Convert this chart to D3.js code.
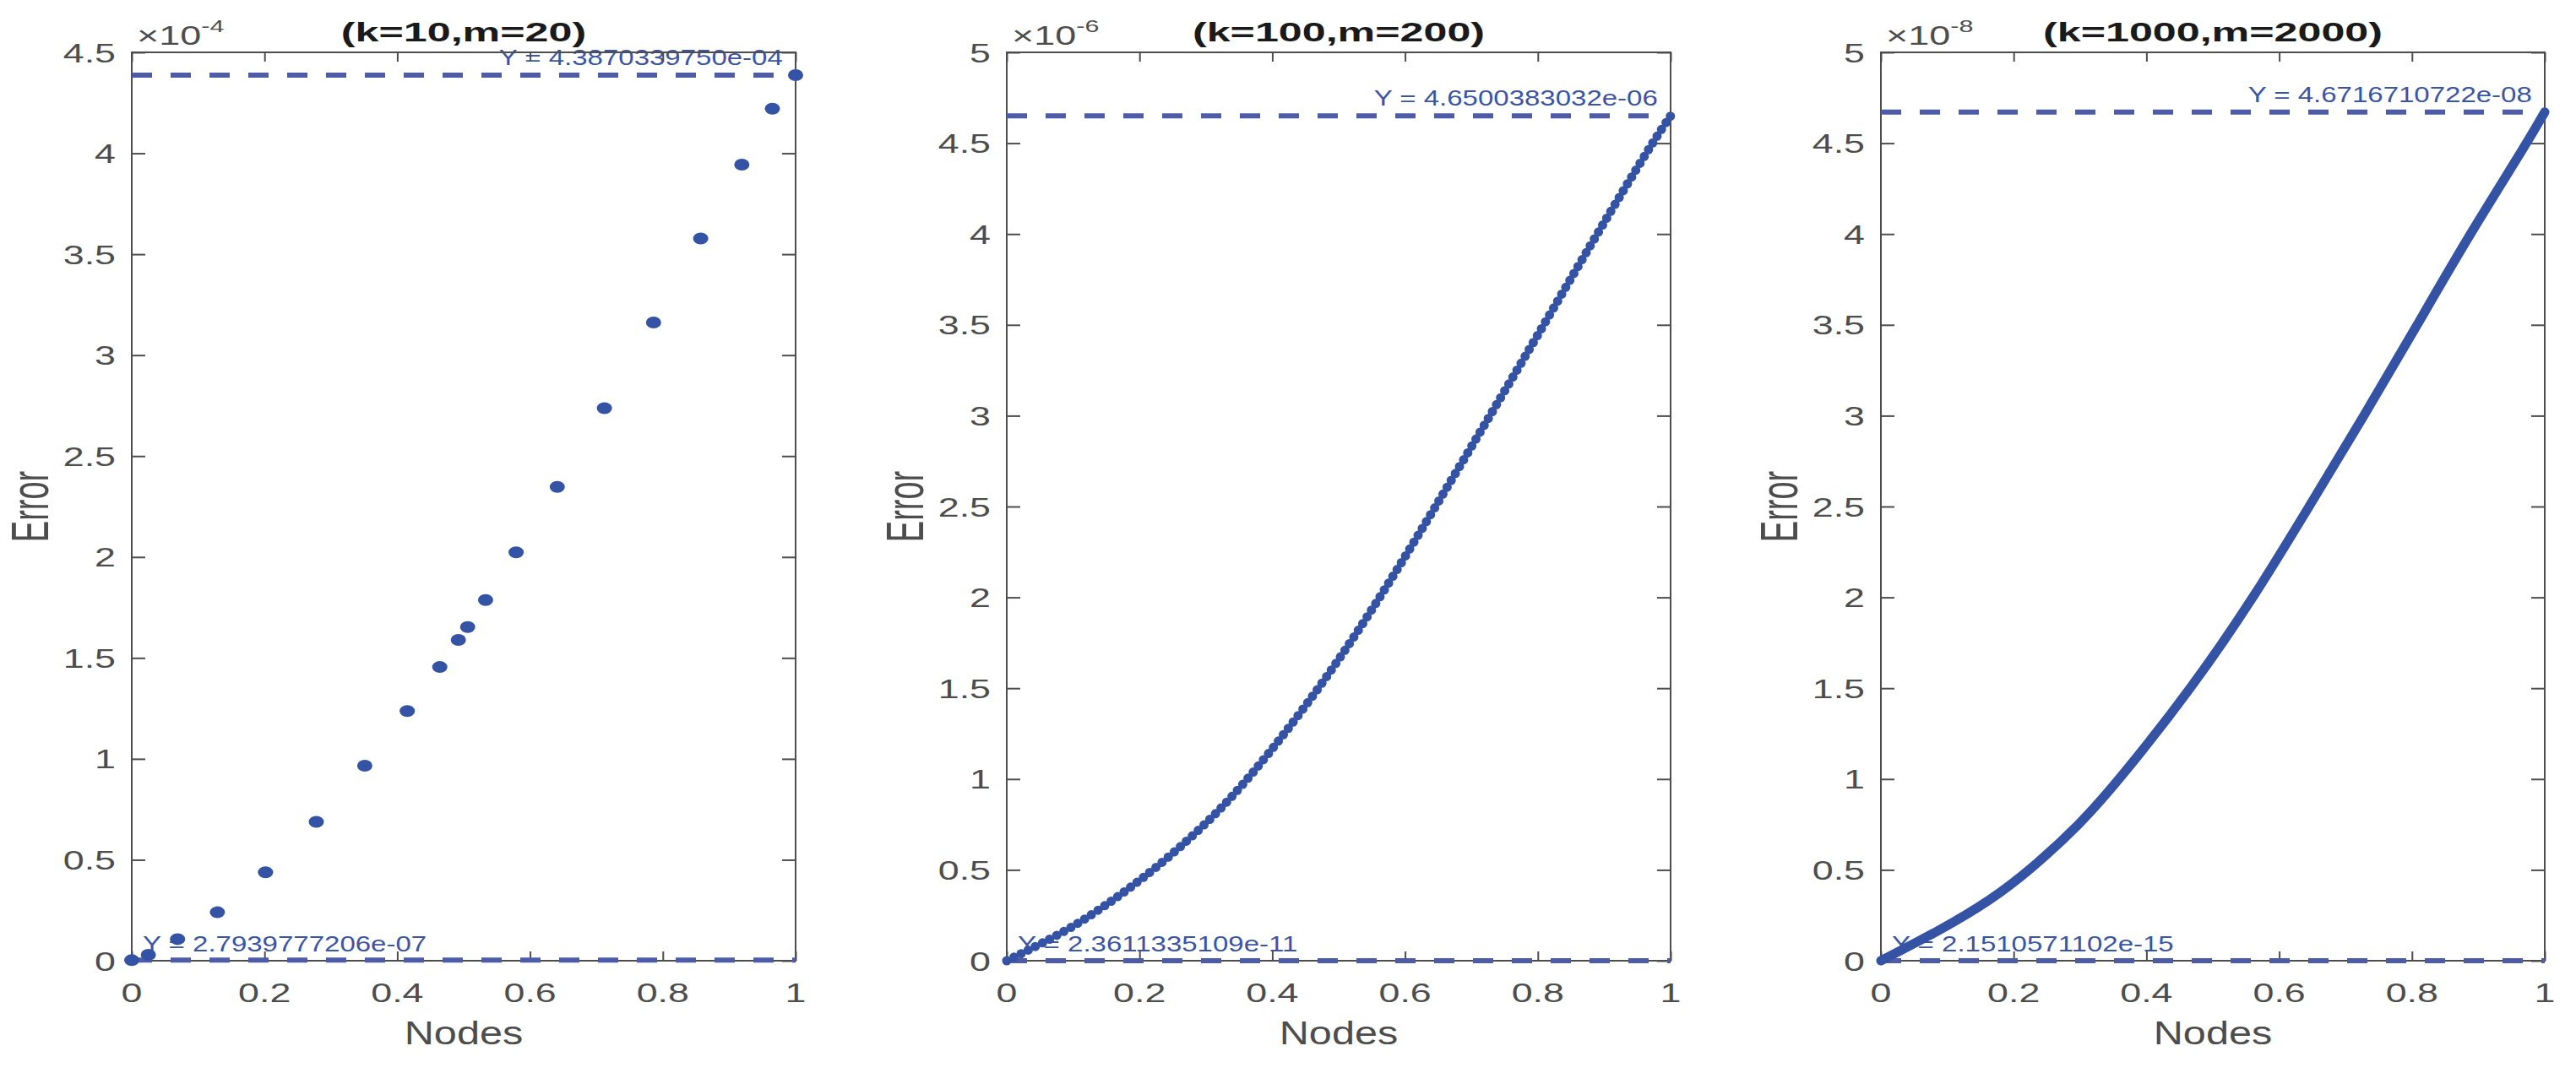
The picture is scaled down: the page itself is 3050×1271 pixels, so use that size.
<!DOCTYPE html>
<html>
<head>
<meta charset="utf-8">
<script src="https://cdn.jsdelivr.net/npm/d3@7"></script>
<style>
  body { margin: 0; background: #fff; }
  text { font-family: "Liberation Sans", Arial, Helvetica, sans-serif; }
</style>
</head>
<body>
<svg id="chart" width="3050" height="1271"></svg>
<script>
// panel 1 (k=10,m=20): nodes and error, error in units of 1e-4
var nodes1 = [0, 0.025, 0.069, 0.129, 0.2015, 0.278, 0.351, 0.415, 0.464, 0.492,
              0.506, 0.533, 0.579, 0.641, 0.712, 0.786, 0.857, 0.919, 0.965, 1];
var err1 = [0.0028, 0.029, 0.107, 0.240, 0.438, 0.688, 0.966, 1.237, 1.455, 1.589,
            1.653, 1.787, 2.023, 2.347, 2.737, 3.162, 3.578, 3.944, 4.221, 4.387];

// panel 2 (k=100,m=200): error in units of 1e-6
var nodes2 = [0, 0.094, 0.16, 0.222, 0.30, 0.365, 0.472, 0.563, 0.646, 0.728, 0.809, 0.889, 0.972, 1];
var err2 = [0, 0.169, 0.332, 0.5, 0.75, 1.0, 1.5, 2.0, 2.5, 3.0, 3.5, 4.0, 4.5, 4.65];

// panel 3 (k=1000,m=2000): error in units of 1e-8
var nodes3 = [0, 0.09, 0.165, 0.225, 0.30, 0.36, 0.468, 0.562, 0.645, 0.728, 0.808, 0.887, 0.973, 1];
var err3 = [0, 0.169, 0.332, 0.5, 0.75, 1.0, 1.5, 2.0, 2.5, 3.0, 3.5, 4.0, 4.5, 4.6717];

var titles = ["(k=10,m=20)", "(k=100,m=200)", "(k=1000,m=2000)"];
var exponents = ["-4", "-6", "-8"];
var yMax = [4.5, 5, 5];
var xTicks = [0, 0.2, 0.4, 0.6, 0.8, 1];
var yTicks1 = [0, 0.5, 1, 1.5, 2, 2.5, 3, 3.5, 4, 4.5];
var yTicks23 = [0, 0.5, 1, 1.5, 2, 2.5, 3, 3.5, 4, 4.5, 5];
var maxValues = [4.3870339750, 4.6500383032, 4.6716710722];
var maxLabels = ["Y = 4.3870339750e-04", "Y = 4.6500383032e-06", "Y = 4.6716710722e-08"];
var minValues = [0.0027939777206, 0.000023611335109, 0.00000021510571102];
var minLabels = ["Y = 2.7939777206e-07", "Y = 2.3611335109e-11", "Y = 2.1510571102e-15"];

var svg = d3.select("#chart");
svg.append("rect").attr("width", 3050).attr("height", 1271).attr("fill", "#fff");

var lefts = [156, 1192, 2227],
    plotW = 786, plotTop = 62, plotBottom = 1138;

var axisColor = "#4d4d4d", dotColor = "#3553a5", dashColor = "#4e5ca8", tipColor = "#3a55a6";
var fmt = d3.format("~g");

// text squeezed/stretched horizontally like the exported figure
function stext(g, x, y, str, size, sx, anchor) {
  return g.append("text")
    .attr("transform", "translate(" + x + "," + y + ") scale(" + sx + ",1)")
    .attr("text-anchor", anchor)
    .attr("font-size", size)
    .text(str);
}

function drawPanel(i, nodes, errs) {
  var left = lefts[i];
  var x = d3.scaleLinear().domain([0, 1]).range([left, left + plotW]);
  var y = d3.scaleLinear().domain([0, yMax[i]]).range([plotBottom, plotTop]);
  var yTicks = i == 0 ? yTicks1 : yTicks23;
  var g = svg.append("g");

  // data tip labels (under the axes and the data)
  stext(g, x(0.553), y(maxValues[i]) - 12, maxLabels[i], 26, 1.27, "start").attr("fill", tipColor);
  stext(g, left + 13, 1127, minLabels[i], 26, 1.27, "start").attr("fill", tipColor);

  // box and inner ticks
  g.append("rect")
    .attr("x", left).attr("y", plotTop)
    .attr("width", plotW).attr("height", plotBottom - plotTop)
    .attr("fill", "none").attr("stroke", axisColor).attr("stroke-width", 2);

  var ax = [
    d3.axisBottom(x).tickValues(xTicks).tickSize(-11).tickFormat(""),
    d3.axisTop(x).tickValues(xTicks).tickSize(-11).tickFormat(""),
    d3.axisLeft(y).tickValues(yTicks).tickSize(-16).tickFormat(""),
    d3.axisRight(y).tickValues(yTicks).tickSize(-16).tickFormat("")
  ];
  var pos = ["translate(0," + plotBottom + ")", "translate(0," + plotTop + ")",
             "translate(" + left + ",0)", "translate(" + (left + plotW) + ",0)"];
  ax.forEach(function (a, k) {
    var ag = g.append("g").attr("transform", pos[k]).call(a);
    ag.select(".domain").remove();
    ag.selectAll("line").attr("stroke", axisColor).attr("stroke-width", 2);
  });

  // tick labels
  xTicks.forEach(function (t) {
    stext(g, x(t), 1187, fmt(t), 32, 1.4, "middle").attr("fill", axisColor);
  });
  yTicks.forEach(function (t) {
    stext(g, left - 19, y(t) + 11.5, fmt(t), 32, 1.4, "end").attr("fill", axisColor);
  });

  // exponent above the axis
  var m = stext(g, left + 6, 53, "", 31, 1.45, "start").attr("fill", axisColor);
  m.append("tspan").text("×10");
  m.append("tspan").attr("font-size", 21).attr("dy", -15).text(exponents[i]);

  // title and axis labels
  stext(g, left + plotW / 2, 49, titles[i], 31, 1.62, "middle")
    .attr("font-weight", "bold").attr("fill", "#1a1a1a");
  stext(g, left + plotW / 2, 1237, "Nodes", 38, 1.28, "middle").attr("fill", axisColor);
  g.append("text")
    .attr("transform", "translate(" + (left - 99) + "," + ((plotTop + plotBottom) / 2) + ") scale(1.65,1) rotate(-90)")
    .attr("text-anchor", "middle")
    .attr("font-size", 38)
    .attr("fill", axisColor)
    .text("Error");

  // dashed lines at the max and min error
  [maxValues[i], minValues[i]].forEach(function (v) {
    g.append("line")
      .attr("x1", x(0)).attr("x2", x(1))
      .attr("y1", y(v)).attr("y2", y(v))
      .attr("stroke", dashColor).attr("stroke-width", 6)
      .attr("stroke-dasharray", "24,22");
  });

  var pts = nodes.map(function (n, k) { return [n, errs[k]]; });
  // basis curve smooths out the reading noise
  var line = d3.line()
    .x(function (d) { return x(d[0]); })
    .y(function (d) { return y(d[1]); })
    .curve(d3.curveBasis);

  if (i == 0) {
    g.append("g").selectAll("ellipse")
      .data(pts)
      .enter()
      .append("ellipse")
      .attr("cx", function (d) { return x(d[0]); })
      .attr("cy", function (d) { return y(d[1]); })
      .attr("rx", 9).attr("ry", 7)
      .attr("fill", dotColor);
  } else if (i == 1) {
    // many markers touching each other -> beaded stroke
    g.append("path").datum(pts)
      .attr("d", line)
      .attr("fill", "none").attr("stroke", dotColor)
      .attr("stroke-width", 11).attr("stroke-linecap", "round")
      .attr("stroke-dasharray", "0,9.5");
  } else {
    g.append("path").datum(pts)
      .attr("d", line)
      .attr("fill", "none").attr("stroke", dotColor)
      .attr("stroke-width", 11).attr("stroke-linecap", "round");
  }
}

drawPanel(0, nodes1, err1);
drawPanel(1, nodes2, err2);
drawPanel(2, nodes3, err3);
</script>
</body>
</html>
